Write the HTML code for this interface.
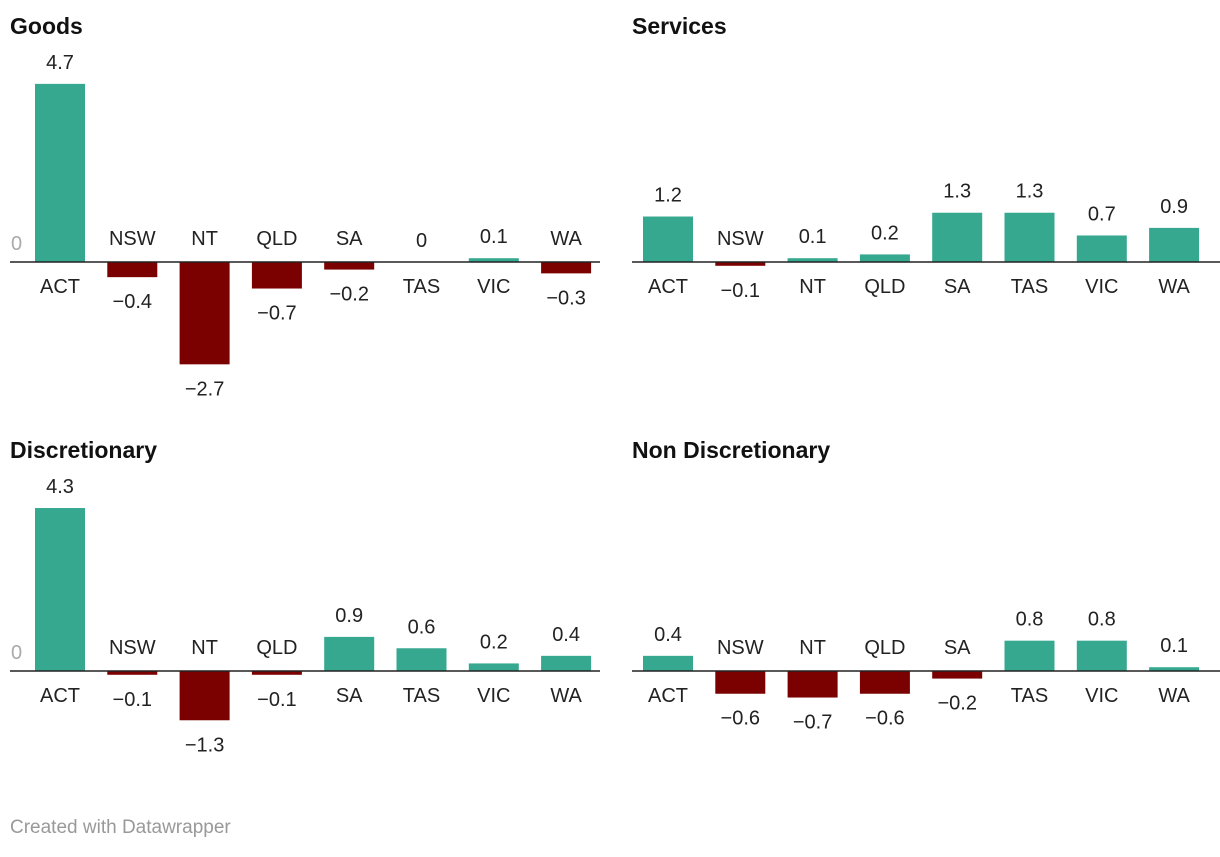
<!DOCTYPE html>
<html><head><meta charset="utf-8">
<style>
body{margin:0;background:#fff;width:1220px;height:852px;overflow:hidden;font-family:"Liberation Sans",Roboto,sans-serif;}
svg text{font-family:"Liberation Sans",sans-serif;}
</style></head>
<body>
<svg id="chart" width="1220" height="852" xmlns="http://www.w3.org/2000/svg">
<text x="10" y="833" font-size="19" fill="#999">Created with Datawrapper</text>
</svg>
<script>
const categories = ["ACT","NSW","NT","QLD","SA","TAS","VIC","WA"];
const goods = [4.7,-0.4,-2.7,-0.7,-0.2,0,0.1,-0.3];
const services = [1.2,-0.1,0.1,0.2,1.3,1.3,0.7,0.9];
const discretionary = [4.3,-0.1,-1.3,-0.1,0.9,0.6,0.2,0.4];
const nonDiscretionary = [0.4,-0.6,-0.7,-0.6,-0.2,0.8,0.8,0.1];
const titles = ["Goods","Services","Discretionary","Non Discretionary"];

const svg = document.getElementById('chart');
const NS = "http://www.w3.org/2000/svg";
const pxPerUnit = 37.9;
function mk(tag, attrs){const e=document.createElementNS(NS,tag);for(const k in attrs)e.setAttribute(k,attrs[k]);svg.appendChild(e);return e;}
function fmt(v){return v<0?"\u2212"+Math.abs(v):String(v);}

const panels = [
 {data:goods, x0:10, base:262, showZero:true, barStart:35, lineEnd:600, titleY:34},
 {data:services, x0:632, base:262, showZero:false, barStart:643, lineEnd:1220, titleY:34},
 {data:discretionary, x0:10, base:671, showZero:true, barStart:35, lineEnd:600, titleY:458},
 {data:nonDiscretionary, x0:632, base:671, showZero:false, barStart:643, lineEnd:1220, titleY:458}
];
panels.forEach((p,pi)=>{
  const yScale = v => p.base - v*pxPerUnit;
  const xBand = i => p.barStart + i*72.3;
  const t = mk('text',{x:p.x0,y:p.titleY,'font-size':23,'font-weight':'bold',fill:'#111'});
  t.textContent = titles[pi];
  
  
  if(p.showZero){
    const z = mk('text',{x:p.x0+1,y:p.base-12,'font-size':20,fill:'#aaa'});
    z.textContent = "0";
    
    
  }
  p.data.forEach((v,i)=>{
    const x = xBand(i), w = 50, cx = x + w/2;
    const y1 = yScale(Math.max(v,0)), y2 = yScale(Math.min(v,0));
    const r = mk('rect',{x:x,y:y1,width:w,height:Math.max(y2-y1,0),fill:v>=0?'#35a88f':'#7b0000'});
    
    
    const vl = mk('text',{x:cx,'text-anchor':'middle','font-size':20,fill:'#222'});
    const cl = mk('text',{x:cx,'text-anchor':'middle','font-size':20,fill:'#222'});
    if(v>=0){
      vl.setAttribute('y', y1-15);
      cl.setAttribute('y', p.base+31);
    } else {
      vl.setAttribute('y', y2+31);
      cl.setAttribute('y', p.base-17);
    }
    vl.textContent = fmt(v);
    cl.textContent = categories[i];
    
    
    
    
  });
  const l = mk('line',{x1:p.x0,x2:p.lineEnd,y1:p.base,y2:p.base,stroke:'#222','stroke-width':1.5});
  
  
});
</script>
</body></html>
